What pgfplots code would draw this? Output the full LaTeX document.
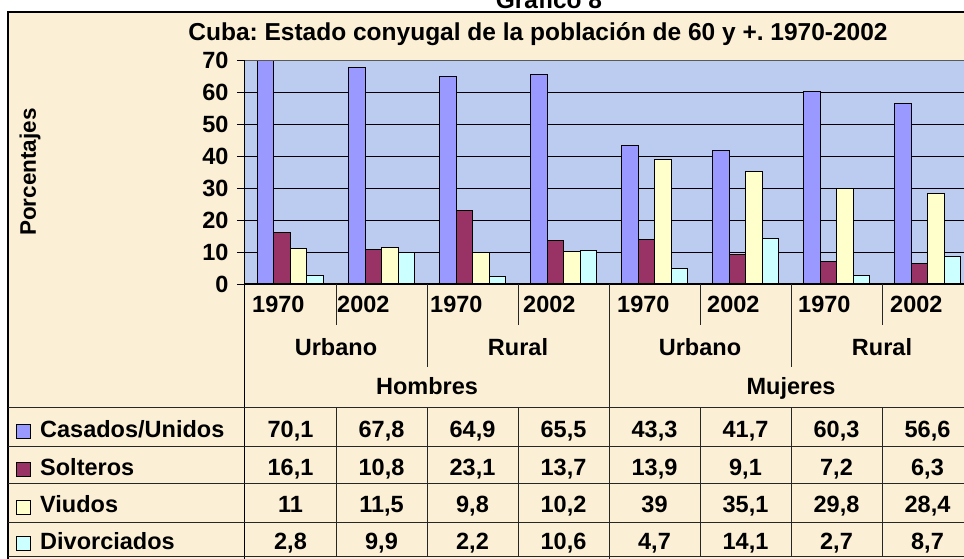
\documentclass[border=0pt]{standalone}
\usepackage{fontspec}
\setmainfont{Liberation Sans}
\usepackage{pgfplots}
\pgfplotsset{compat=1.18}
\usetikzlibrary{backgrounds}

\definecolor{casados}{HTML}{9999FF}
\definecolor{solteros}{HTML}{993366}
\definecolor{viudos}{HTML}{FFFFCC}
\definecolor{divorc}{HTML}{CCFFFF}
\definecolor{fondo}{RGB}{251,240,214}
\definecolor{area}{RGB}{188,204,240}

\newcommand{\lab}{\bfseries\fontsize{23.5}{28}\selectfont}

\begin{document}
\frenchspacing
\begin{tikzpicture}
% pagina = 964 x 559 pixeles del original; el eje ocupa x 245..964, y 60.5..284
\useasboundingbox (-245pt,-275pt) rectangle (719pt,284pt);
\begin{axis}[
  width=719pt, height=223.5pt, scale only axis,
  xmin=0, xmax=7.9011, ymin=0, ymax=70,
  xtick=\empty,
  ytick={0,10,...,70},
  ymajorgrids, grid style={black, line width=0.8pt},
  tick align=outside, major tick length=8pt,
  ytick style={black, line width=0.8pt},
  yticklabel style={font=\lab, xshift=-5pt},
  /pgf/number format/assume math mode=true,
  axis background/.style={fill=area},
  axis line style={draw=none},
]
\addplot[ybar, bar width=16.5pt, bar shift=-24.75pt, fill=casados, draw=black, line width=1pt]
  coordinates {(0.5,70.1) (1.5,67.8) (2.5,64.9) (3.5,65.5) (4.5,43.3) (5.5,41.7) (6.5,60.3) (7.5,56.6)};
\addplot[ybar, bar width=16.5pt, bar shift=-8.25pt, fill=solteros, draw=black, line width=1pt]
  coordinates {(0.5,16.1) (1.5,10.8) (2.5,23.1) (3.5,13.7) (4.5,13.9) (5.5,9.1) (6.5,7.2) (7.5,6.3)};
\addplot[ybar, bar width=16.5pt, bar shift=8.25pt, fill=viudos, draw=black, line width=1pt]
  coordinates {(0.5,11) (1.5,11.5) (2.5,9.8) (3.5,10.2) (4.5,39) (5.5,35.1) (6.5,29.8) (7.5,28.4)};
\addplot[ybar, bar width=16.5pt, bar shift=24.75pt, fill=divorc, draw=black, line width=1pt]
  coordinates {(0.5,2.8) (1.5,9.9) (2.5,2.2) (3.5,10.6) (4.5,4.7) (5.5,14.1) (6.5,2.7) (7.5,8.7)};
\end{axis}

% fondo (pixeles del original, y hacia abajo)
\begin{scope}[on background layer]
\begin{scope}[x=1pt, y=1pt, xshift=-245pt, yshift=284pt, yscale=-1]
\fill[white] (0,0) rectangle (964,559);
\fill[fondo] (8,12) rectangle (964,559);
\end{scope}
\end{scope}

\begin{scope}[x=1pt, y=1pt, xshift=-245pt, yshift=284pt, yscale=-1]
\draw[black, line width=1.2pt] (8,559) -- (8,12) -- (964,12);
\begin{scope}
\clip (0,0) rectangle (964,559);
\node[overlay, anchor=base, font=\bfseries\fontsize{24.5}{29}\selectfont] at (549,9) {Gráfico 8};
\end{scope}
\node[anchor=base, font=\bfseries\fontsize{24.5}{29}\selectfont] at (538,40.5)
  {Cuba: Estado conyugal de la población de 60 y +. 1970-2002};
\node[rotate=90, anchor=base, font=\bfseries\fontsize{22.5}{27}\selectfont] at (36,172) {Porcentajes};

\draw[gray!70!black, line width=0.8pt] (245,60.5) -- (964,60.5);
\draw[black, line width=1pt] (245,60.5) -- (245,559);
\draw[black, line width=1pt] (245,284) -- (964,284);
\begin{scope}[line width=1pt, draw=black!85]
  \foreach \x in {336,518,700,882} \draw (\x,284) -- (\x,325);
  \foreach \x in {427,791} \draw (\x,284) -- (\x,367);
  \draw (609,284) -- (609,559);
  \foreach \y in {408,447,484,522,556} \draw (8,\y) -- (964,\y);
  \foreach \x in {336,427,518,700,791,882} \draw (\x,408) -- (\x,556);
\end{scope}

\foreach \x/\t in {252/1970,337/2002,430/1970,523/2002,617/1970,707/2002,798/1970,890/2002}
  \node[anchor=base west, inner sep=0, font=\lab] at (\x,313) {\t};
\foreach \x/\t in {336/Urbano,518/Rural,700/Urbano,882/Rural}
  \node[anchor=base, inner sep=0, font=\lab] at (\x,356) {\t};
\node[anchor=base, inner sep=0, font=\lab] at (427,395) {Hombres};
\node[anchor=base, inner sep=0, font=\lab] at (791,395) {Mujeres};

\foreach \y/\c/\n in {427.5/casados/Casados\slash Unidos, 465.5/solteros/Solteros, 503/viudos/Viudos, 539/divorc/Divorciados}{
  \filldraw[fill=\c, draw=black, line width=0.8pt] (16,\y-3) rectangle (30,\y+11);
  \node[anchor=base west, inner sep=0, font=\lab] at (40,\y+10) {\n};
}
\foreach \k/\v in {0/{70,1},1/{67,8},2/{64,9},3/{65,5},4/{43,3},5/{41,7},6/{60,3},7/{56,6}}
  \node[anchor=base, inner sep=0, font=\lab] at (290.5+91*\k,437.5) {\v};
\foreach \k/\v in {0/{16,1},1/{10,8},2/{23,1},3/{13,7},4/{13,9},5/{9,1},6/{7,2},7/{6,3}}
  \node[anchor=base, inner sep=0, font=\lab] at (290.5+91*\k,475.5) {\v};
\foreach \k/\v in {0/{11},1/{11,5},2/{9,8},3/{10,2},4/{39},5/{35,1},6/{29,8},7/{28,4}}
  \node[anchor=base, inner sep=0, font=\lab] at (290.5+91*\k,513) {\v};
\foreach \k/\v in {0/{2,8},1/{9,9},2/{2,2},3/{10,6},4/{4,7},5/{14,1},6/{2,7},7/{8,7}}
  \node[anchor=base, inner sep=0, font=\lab] at (290.5+91*\k,549) {\v};
\end{scope}
\end{tikzpicture}
\end{document}
